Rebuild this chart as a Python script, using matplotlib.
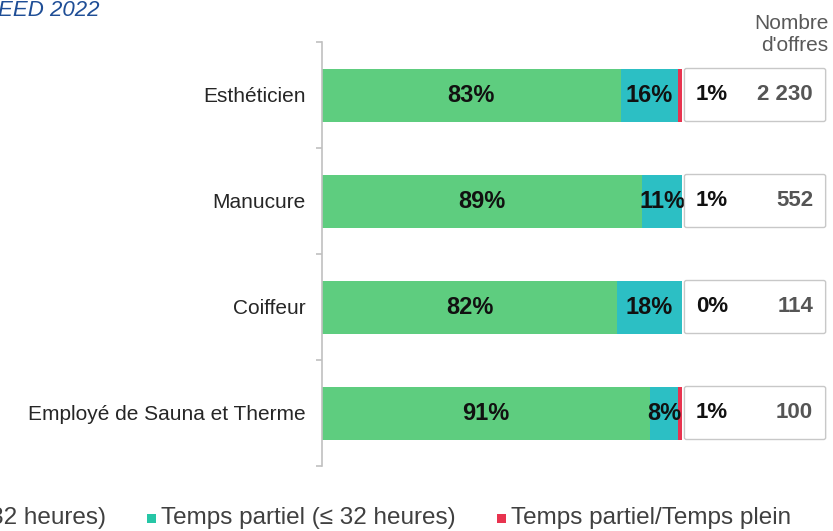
import matplotlib
matplotlib.use("Agg")
import matplotlib.pyplot as plt
from matplotlib.patches import FancyBboxPatch, Rectangle

plt.rcParams['font.family'] = ['Liberation Sans', 'DejaVu Sans']

categories = ["Esthéticien", "Manucure", "Coiffeur", "Employé de Sauna et Therme"]
temps_plein = [83, 89, 82, 91]
temps_partiel = [16, 11, 18, 8]
mixte = [1, 1, 0, 1]
nb_offres = ["2 230", "552", "114", "100"]
series_names = ["Temps plein (> 32 heures)", "Temps partiel (≤ 32 heures)", "Temps partiel/Temps plein"]
title = "EED 2022"

c_green = "#5ecd7f"
c_teal = "#2cbfc4"
c_red = "#e8334f"
c_teal_leg = "#26c6a6"

W, H = 833, 531
fig = plt.figure(figsize=(W / 100, H / 100), dpi=100)
ax = fig.add_axes([322 / W, 1 - 466 / H, 360 / W, (466 - 42) / H])

y = list(range(len(categories)))
ax.barh(y, temps_plein, height=0.5, color=c_green, zorder=2)
ax.barh(y, temps_partiel, left=temps_plein, height=0.5, color=c_teal, zorder=2)
left2 = [a + b for a, b in zip(temps_plein, temps_partiel)]
ax.barh(y, mixte, left=left2, height=0.5, color=c_red, zorder=2)

ax.set_xlim(0, 100)
ax.set_ylim(len(categories) - 0.5, -0.5)

for i in y:
    ax.text(temps_plein[i] / 2, i, f"{temps_plein[i]}%", ha="center", va="center",
            fontsize=17, fontweight="bold", color="#111111", zorder=4)
    ax.text(temps_plein[i] + temps_partiel[i] / 2, i, f"{temps_partiel[i]}%", ha="center",
            va="center", fontsize=17, fontweight="bold", color="#111111", zorder=4)
    box = FancyBboxPatch((100.28 + 0.4, i - 0.25), 140.3 - 100.28 - 0.8, 0.5,
                         boxstyle="round,pad=0,rounding_size=0.6",
                         facecolor="white", edgecolor="#c8c8c8", linewidth=1.0,
                         clip_on=False, zorder=5, mutation_aspect=0.03)
    ax.add_patch(box)
    ax.text(108.3, i, f"{mixte[i]}%", ha="center", va="center", fontsize=16,
            fontweight="bold", color="#111111", clip_on=False, zorder=6)
    ax.text(136.4, i, nb_offres[i], ha="right", va="center", fontsize=16,
            fontweight="bold", color="#555555", clip_on=False, zorder=6)

ax.text(140.6, -0.57, "Nombre\nd'offres", ha="right", va="center", fontsize=15,
        color="#595959", multialignment="right", linespacing=1.2, clip_on=False)

for s in ["top", "right", "bottom"]:
    ax.spines[s].set_visible(False)
ax.spines["left"].set_color("#c0c0c0")
ax.spines["left"].set_linewidth(1.2)
ax.set_xticks([])
ax.set_yticks(y)
ax.set_yticklabels(categories, fontsize=15, color="#262626")
ax.tick_params(axis="y", which="major", length=0, pad=12)
ax.set_yticks([i - 0.5 for i in range(len(categories) + 1)], minor=True)
ax.tick_params(axis="y", which="minor", length=4, color="#c0c0c0", width=1.2)

fig.text(-0.002, 1 - 11 / H, title, ha="left", va="center", fontsize=16,
         style="italic", color="#1f4e96")

# legend (manual)
ly = 1 - 518 / H
fig.text(106 / W, ly, series_names[0], ha="right", va="center", fontsize=17.5, color="#404040")
fig.patches.append(Rectangle((147 / W, 1 - 523 / H), 9 / W, 9 / H, transform=fig.transFigure,
                             facecolor=c_teal_leg, edgecolor="none"))
fig.text(161 / W, ly, series_names[1], ha="left", va="center", fontsize=17.5, color="#404040")
fig.patches.append(Rectangle((497 / W, 1 - 523 / H), 9 / W, 9 / H, transform=fig.transFigure,
                             facecolor=c_red, edgecolor="none"))
fig.text(511 / W, ly, series_names[2], ha="left", va="center", fontsize=17.5, color="#404040")

fig.savefig("out.png", dpi=100)
